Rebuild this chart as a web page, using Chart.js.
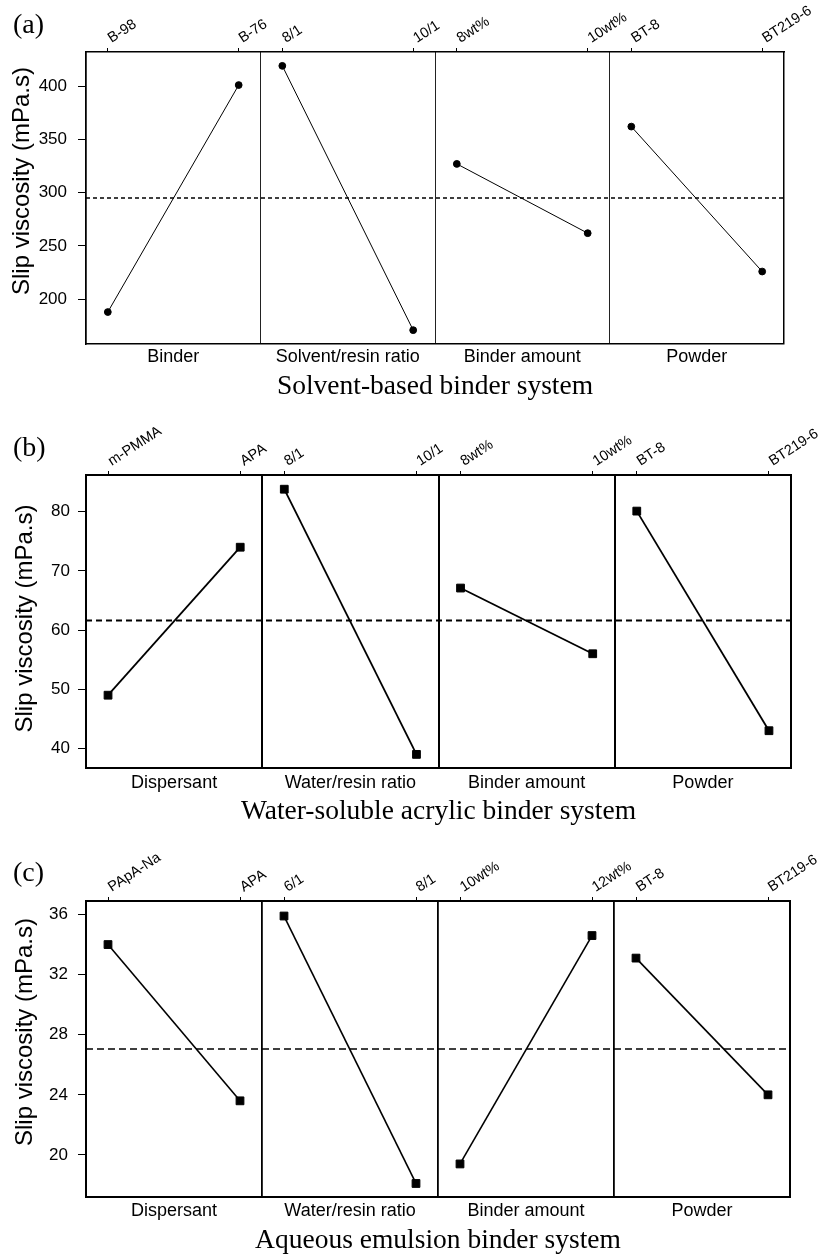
<!DOCTYPE html>
<html>
<head>
<meta charset="utf-8">
<title>Slip viscosity - main effects</title>
<script src="https://cdn.jsdelivr.net/npm/chart.js@4.4.1/dist/chart.umd.min.js"></script>
<style>
  html, body { margin: 0; padding: 0; background: #fff; }
  #page { position: relative; width: 823px; height: 1257px; overflow: hidden; }
  #page canvas { position: absolute; left: 0; }
  .tag {
    position: absolute; left: 13px;
    font-family: 'Liberation Serif', 'Times New Roman', serif;
    font-size: 28px; line-height: 28px; color: #000;
  }
</style>
</head>
<body>
<div id="page">
  <canvas id="chartA" width="823" height="410" style="top:0px"></canvas>
  <canvas id="chartB" width="823" height="415" style="top:420px"></canvas>
  <canvas id="chartC" width="823" height="417" style="top:840px"></canvas>
  <div class="tag" style="top:10px">(a)</div>
  <div class="tag" style="top:433px">(b)</div>
  <div class="tag" style="top:858px">(c)</div>
</div>
<script>
// Slip viscosity main effects - three binder systems

// (a) Solvent-based binder system
const A_LEVELS = ['B-98', 'B-76', '8/1', '10/1', '8wt%', '10wt%', 'BT-8', 'BT219-6'];
const A_FACTORS = ['Binder', 'Solvent/resin ratio', 'Binder amount', 'Powder'];
const A_VALUES = [188, 401, 419, 171, 327, 262, 362, 226];
const A_MEAN = 295;
const A_Y_TICKS = [200, 250, 300, 350, 400];
const A_Y_MIN = 158;
const A_Y_MAX = 432;

// (b) Water-soluble acrylic binder system
const B_LEVELS = ['m-PMMA', 'APA', '8/1', '10/1', '8wt%', '10wt%', 'BT-8', 'BT219-6'];
const B_FACTORS = ['Dispersant', 'Water/resin ratio', 'Binder amount', 'Powder'];
const B_VALUES = [49, 74, 83.8, 39, 67.1, 56, 80.1, 43];
const B_MEAN = 61.6;
const B_Y_TICKS = [40, 50, 60, 70, 80];
const B_Y_MIN = 36.7;
const B_Y_MAX = 86.2;

// (c) Aqueous emulsion binder system
const C_LEVELS = ['PApA-Na', 'APA', '6/1', '8/1', '10wt%', '12wt%', 'BT-8', 'BT219-6'];
const C_FACTORS = ['Dispersant', 'Water/resin ratio', 'Binder amount', 'Powder'];
const C_VALUES = [34, 23.6, 35.9, 18.1, 19.4, 34.6, 33.1, 24];
const C_MEAN = 27.05;
const C_Y_TICKS = [20, 24, 28, 32, 36];
const C_Y_MIN = 17.2;
const C_Y_MAX = 36.9;

const Y_TITLE = 'Slip viscosity (mPa.s)';

// where the two levels of a factor sit inside its cell
const LEVEL_POS = [0.125, 0.875];

const SANS = "'Liberation Sans', Arial, sans-serif";
const SERIF = "'Liberation Serif', 'Times New Roman', serif";

// x position of level k (two levels per factor)
function levelX(k) {
    return Math.floor(k / 2) + LEVEL_POS[k % 2];
}

// replace the generated ticks with a fixed list
function fixedTicks(values) {
    return function(scale) {
        scale.ticks = values.map(v => ({ value: v }));
    };
}

// outer frame lines vs. the dividers between factors
function isDivider(ctx) {
    return ctx.type === 'tick' && ctx.index > 0;
}

// vertical y-axis title, drawn a little off the plot centre
const yTitlePlugin = {
    id: 'yTitle',
    afterDraw(chart, args, opts) {
        const { ctx, chartArea } = chart;
        ctx.save();
        ctx.font = '24px ' + SANS;
        ctx.fillStyle = '#000';
        ctx.textAlign = 'center';
        ctx.textBaseline = 'middle';
        ctx.translate(opts.x, (chartArea.top + chartArea.bottom) / 2 + opts.shift);
        ctx.rotate(-Math.PI / 2);
        ctx.fillText(opts.text, 0, 0);
        ctx.restore();
    }
};

function buildPanel(canvasId, p) {
    const nFactors = p.factors.length;
    const datasets = [];

    // one dataset per factor so the segments are not joined
    for (let f = 0; f < nFactors; f++) {
        datasets.push({
            data: [0, 1].map(j => ({ x: levelX(2 * f + j), y: p.values[2 * f + j] })),
            borderColor: '#000',
            borderWidth: p.lineWidth,
            pointStyle: p.marker,
            pointRadius: p.markerSize,
            pointBackgroundColor: '#000',
            pointBorderColor: '#000',
            pointBorderWidth: 1
        });
    }

    // grand mean
    datasets.push({
        data: [{ x: 0, y: p.mean }, { x: nFactors, y: p.mean }],
        borderColor: '#000',
        borderWidth: p.meanWidth,
        borderDash: p.meanDash,
        pointRadius: 0
    });

    const ctx = document.getElementById(canvasId).getContext('2d');
    return new Chart(ctx, {
        type: 'line',
        data: { datasets: datasets },
        plugins: [yTitlePlugin],
        options: {
            responsive: false,
            animation: false,
            devicePixelRatio: 1,
            layout: { padding: { left: 0, right: p.padRight, top: 0, bottom: 0 } },
            plugins: {
                legend: { display: false },
                tooltip: { enabled: false },
                yTitle: { text: Y_TITLE, x: p.yTitleX, shift: p.yTitleShift }
            },
            scales: {
                x: {
                    type: 'linear',
                    position: 'bottom',
                    min: 0,
                    max: nFactors,
                    afterBuildTicks: fixedTicks(p.factors.map((_, i) => i + 0.5)),
                    afterFit: function(s) {
                        s.height = p.bottomH;
                        s.paddingLeft = 0;
                        s.paddingRight = 0;
                    },
                    ticks: {
                        callback: (v, i) => p.factors[i],
                        font: { family: SANS, size: 18 },
                        color: '#000',
                        padding: p.catPad,
                        maxRotation: 0,
                        autoSkip: false
                    },
                    grid: {
                        offset: true,
                        drawTicks: false,
                        color: ctx => isDivider(ctx) ? p.divColor : '#000',
                        lineWidth: ctx => isDivider(ctx) ? p.divWidth : p.boxWidth
                    },
                    border: { display: true, color: '#000', width: p.boxWidth },
                    title: {
                        display: true,
                        text: p.title,
                        color: '#000',
                        font: { family: SERIF, size: 27.5, lineHeight: 1 },
                        padding: { top: 0, bottom: p.titlePad }
                    }
                },
                xTop: {
                    type: 'linear',
                    position: 'top',
                    min: 0,
                    max: nFactors,
                    afterBuildTicks: fixedTicks(p.levels.map((_, k) => levelX(k))),
                    afterFit: function(s) {
                        s.height = p.topH;
                        s.paddingLeft = 0;
                        s.paddingRight = 0;
                    },
                    ticks: {
                        callback: (v, i) => p.levels[i],
                        font: { family: SANS, size: 14.5 },
                        color: '#000',
                        minRotation: 33,
                        maxRotation: 33,
                        autoSkip: false,
                        labelOffset: 11,
                        padding: 1
                    },
                    grid: { drawOnChartArea: false, drawTicks: true, tickLength: 4, color: '#000', lineWidth: 1 },
                    border: { display: true, color: '#000', width: p.boxWidth }
                },
                y: {
                    type: 'linear',
                    position: 'left',
                    min: p.yMin,
                    max: p.yMax,
                    afterBuildTicks: fixedTicks(p.yTicks),
                    afterFit: function(s) {
                        s.width = 86;
                        s.paddingTop = 0;
                        s.paddingBottom = 0;
                    },
                    ticks: {
                        font: { family: SANS, size: 17 },
                        color: '#000',
                        padding: p.yTickPad
                    },
                    grid: { drawOnChartArea: false, drawTicks: true, tickLength: 8, color: '#000', lineWidth: 1 },
                    border: { display: true, color: '#000', width: p.boxWidth }
                }
            }
        }
    });
}

buildPanel('chartA', {
    levels: A_LEVELS, factors: A_FACTORS, values: A_VALUES, mean: A_MEAN,
    yTicks: A_Y_TICKS, yMin: A_Y_MIN, yMax: A_Y_MAX,
    title: 'Solvent-based binder system',
    topH: 52, bottomH: 66, padRight: 39,
    catPad: 2, titlePad: 9, yTickPad: 11, yTitleX: 22, yTitleShift: -17,
    lineWidth: 1, marker: 'circle', markerSize: 3.4,
    meanWidth: 1.3, meanDash: [4, 3],
    boxWidth: 1.5, divWidth: 1, divColor: '#222'
});

buildPanel('chartB', {
    levels: B_LEVELS, factors: B_FACTORS, values: B_VALUES, mean: B_MEAN,
    yTicks: B_Y_TICKS, yMin: B_Y_MIN, yMax: B_Y_MAX,
    title: 'Water-soluble acrylic binder system',
    topH: 55, bottomH: 67, padRight: 32,
    catPad: 4, titlePad: 9, yTickPad: 8, yTitleX: 25, yTitleShift: -3,
    lineWidth: 1.8, marker: 'rect', markerSize: 5.5,
    meanWidth: 2, meanDash: [6, 4],
    boxWidth: 2, divWidth: 2, divColor: '#000'
});

buildPanel('chartC', {
    levels: C_LEVELS, factors: C_FACTORS, values: C_VALUES, mean: C_MEAN,
    yTicks: C_Y_TICKS, yMin: C_Y_MIN, yMax: C_Y_MAX,
    title: 'Aqueous emulsion binder system',
    topH: 61, bottomH: 60, padRight: 33,
    catPad: 3, titlePad: 2, yTickPad: 10, yTitleX: 25, yTitleShift: -17,
    lineWidth: 1.6, marker: 'rect', markerSize: 5.5,
    meanWidth: 1.5, meanDash: [7, 4],
    boxWidth: 2, divWidth: 1.8, divColor: '#000'
});
</script>
</body>
</html>
